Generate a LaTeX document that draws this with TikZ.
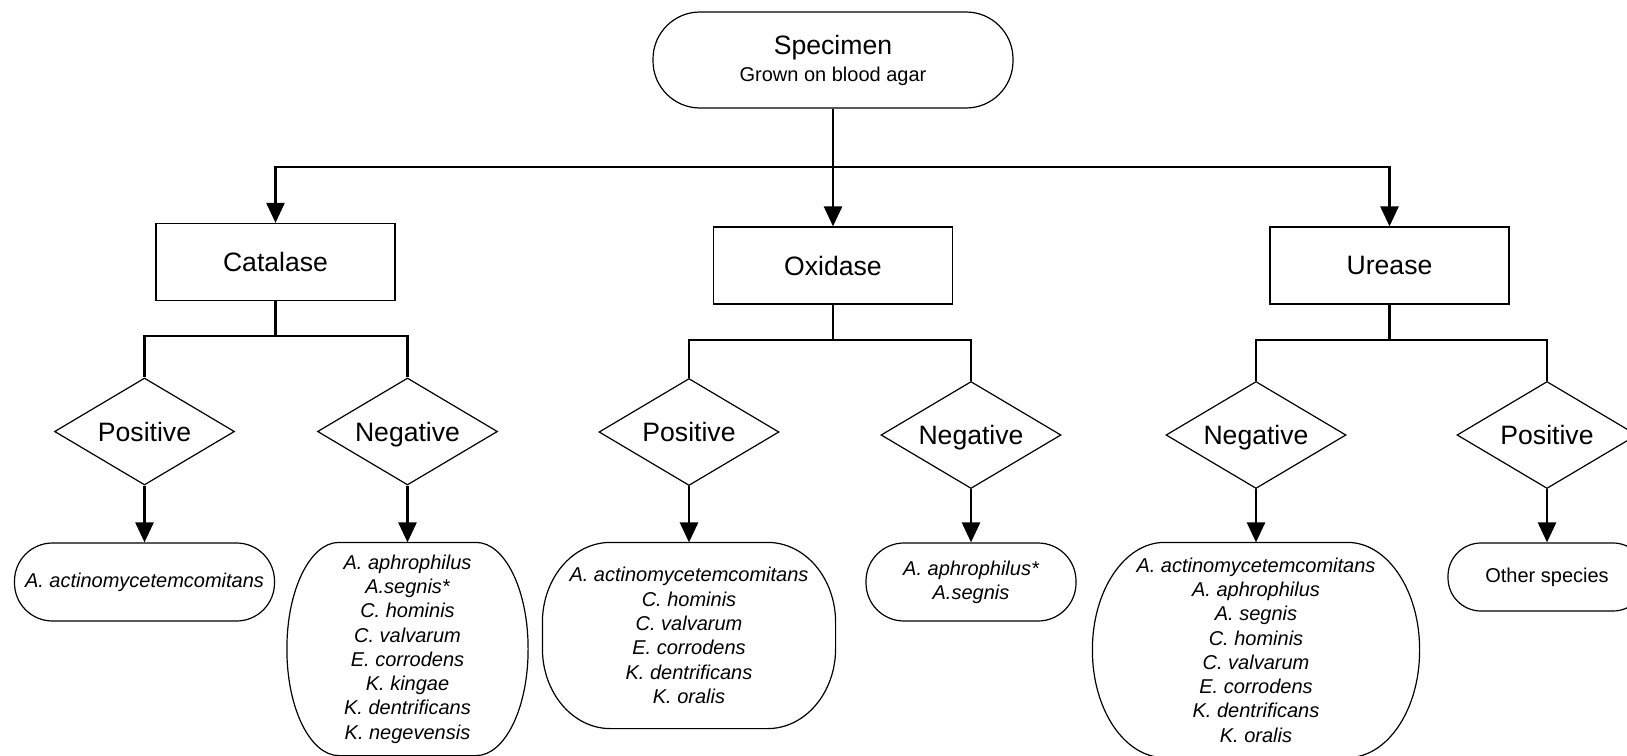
\documentclass[tikz,border=0pt]{standalone}
\usepackage{fontspec}
\setmainfont{Liberation Sans}
\usetikzlibrary{shapes.geometric,arrows.meta}
\newcommand\termbox[3]{\draw[line width=0.6pt] ([xshift=#2]#1.north west) -- ([xshift=-#2]#1.north east) arc[start angle=90,end angle=0,x radius=#2,y radius=#3] -- ([yshift=#3]#1.south east) arc[start angle=0,end angle=-90,x radius=#2,y radius=#3] -- ([xshift=#2]#1.south west) arc[start angle=270,end angle=180,x radius=#2,y radius=#3] -- ([yshift=-#3]#1.north west) arc[start angle=180,end angle=90,x radius=#2,y radius=#3] -- cycle;}

\begin{document}
\begin{tikzpicture}[x=0.5pt,y=-0.5pt,
  test/.style={draw,line width=0.6pt,minimum width=119.5pt,minimum height=38.5pt,inner sep=0pt,font=\fontsize{13.3}{16}\selectfont},
  sign/.style={draw,diamond,aspect=1.68,line width=0.6pt,minimum width=90pt,minimum height=53.5pt,inner sep=0pt,text height=9.6pt,text depth=0pt,font=\fontsize{13.3}{16}\selectfont},
  result/.style={draw,line width=0.6pt,inner sep=0pt,align=center,font=\fontsize{10}{12.15}\selectfont\itshape},
  biglist/.style={result,draw=none},
  conn/.style={line width=1.3pt},
  arr/.style={line width=1.3pt,-{Triangle[length=10pt,width=9pt]}}]
\clip (0,0) rectangle (1627,755);
\node[draw,line width=0.6pt,rounded corners=23.5pt,minimum width=180pt,minimum height=48pt,inner sep=0pt,align=center,font=\fontsize{10}{13.5}\selectfont] (spec) at (833,60) {{\fontsize{13.3}{16}\selectfont Specimen}\\Grown on blood agar};
\node[test] (cat) at (275.5,262) {Catalase};
\node[test] (ox) at (833,265.5) {Oxidase};
\node[test] (ure) at (1389.5,265.5) {Urease};
\coordinate (split) at (833,167);
\coordinate (catsplit) at (275.5,336);
\coordinate (oxsplit) at (833,340);
\coordinate (uresplit) at (1389.5,340);
\node[sign] (catpos) at (144.5,431.5) {Positive};
\node[sign] (catneg) at (407.5,431.5) {Negative};
\node[sign] (oxpos) at (689,432) {Positive};
\node[sign] (oxneg) at (971,435) {Negative};
\node[sign] (urneg) at (1256,435) {Negative};
\node[sign] (urpos) at (1547,435) {Positive};
\node[result,rounded corners=19pt,minimum width=130pt,minimum height=39pt] (catposres) at (144.5,582) {A. actinomycetemcomitans};
\node[biglist,minimum width=120pt,minimum height=106pt] (catnegres) at (407.5,649) {A. aphrophilus\\A.segnis*\\C. hominis\\C. valvarum\\E. corrodens\\K. kingae\\K. dentrificans\\K. negevensis};
\node[biglist,minimum width=146pt,minimum height=92.5pt] (oxposres) at (689,635.5) {A. actinomycetemcomitans\\C. hominis\\C. valvarum\\E. corrodens\\K. dentrificans\\K. oralis};
\node[result,rounded corners=19pt,minimum width=105pt,minimum height=39pt] (oxnegres) at (971,582) {A. aphrophilus*\\A.segnis};
\node[biglist,minimum width=163pt,minimum height=107pt] (urnegres) at (1256,650) {A. actinomycetemcomitans\\A. aphrophilus\\A. segnis\\C. hominis\\C. valvarum\\E. corrodens\\K. dentrificans\\K. oralis};
\node[result,rounded corners=16.5pt,minimum width=99pt,minimum height=34pt,font=\fontsize{10}{12}\selectfont] (urposres) at (1547,577) {Other species};
\termbox{catnegres}{26pt}{53pt}
\termbox{oxposres}{34pt}{40pt}
\termbox{urnegres}{36pt}{53.5pt}
\draw[conn] (spec.south) -- (split);
\draw[arr] (split) -| (cat.north);
\draw[arr] (spec.south) -- (ox.north);
\draw[arr] (split) -| (ure.north);
\draw[conn] (cat.south) -- (catsplit);
\draw[conn] (catsplit) -| (catpos.north);
\draw[conn] (catsplit) -| (catneg.north);
\draw[conn] (ox.south) -- (oxsplit);
\draw[conn] (oxsplit) -| (oxpos.north);
\draw[conn] (oxsplit) -| (oxneg.north);
\draw[conn] (ure.south) -- (uresplit);
\draw[conn] (uresplit) -| (urneg.north);
\draw[conn] (uresplit) -| (urpos.north);
\draw[arr] (catpos.south) -- (catposres.north);
\draw[arr] (catneg.south) -- (catnegres.north);
\draw[arr] (oxpos.south) -- (oxposres.north);
\draw[arr] (oxneg.south) -- (oxnegres.north);
\draw[arr] (urneg.south) -- (urnegres.north);
\draw[arr] (urpos.south) -- (urposres.north);
\end{tikzpicture}
\end{document}
